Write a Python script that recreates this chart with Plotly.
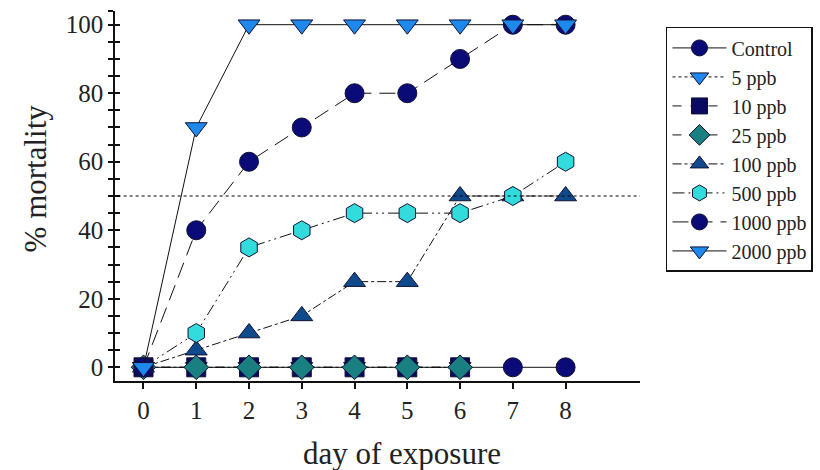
import plotly.graph_objects as go

days = [0, 1, 2, 3, 4, 5, 6, 7, 8]
days_short = [0, 1, 2, 3, 4, 5, 6]

control = [0, 0, 0, 0, 0, 0, 0, 0, 0]
ppb5 = [0, 0, 0, 0, 0, 0, 0]
ppb10 = [0, 0, 0, 0, 0, 0, 0]
ppb25 = [0, 0, 0, 0, 0, 0, 0]
ppb100 = [0, 5, 10, 15, 25, 25, 50, 50, 50]
ppb500 = [0, 10, 35, 40, 45, 45, 45, 50, 60]
ppb1000 = [0, 40, 60, 70, 80, 80, 90, 100, 100]
ppb2000 = [0, 70, 100, 100, 100, 100, 100, 100, 100]

lc50 = 50

x_ticks = [0, 1, 2, 3, 4, 5, 6, 7, 8]
y_tickvals = [0, 5, 10, 15, 20, 25, 30, 35, 40, 45, 50, 55, 60, 65, 70, 75, 80, 85, 90, 95, 100, 104]
y_ticktext = ["0", "", "", "", "20", "", "", "", "40", "", "", "", "60", "", "", "", "80", "", "", "", "100", ""]

FONT = "Liberation Serif, Times New Roman, serif"
LINE = "#111111"

series = [
    ("Control", days, control, "circle", "#0b0b78", "solid"),
    ("5 ppb", days_short, ppb5, "triangle-down", "#1e88ec", "dot"),
    ("10 ppb", days_short, ppb10, "square", "#0a0a62", "dash"),
    ("25 ppb", days_short, ppb25, "diamond", "#1a7f80", "dash"),
    ("100 ppb", days, ppb100, "triangle-up", "#0e4a8c", "dashdot"),
    ("500 ppb", days, ppb500, "hexagon", "#33dcdc", "12px,4px,2px,4px,2px,4px"),
    ("1000 ppb", days, ppb1000, "circle", "#0b0b78", "16px,8px"),
    ("2000 ppb", days, ppb2000, "triangle-down", "#1e88ec", "solid"),
]

fig = go.Figure()
for i, (name, xs, ys, sym, col, dash) in enumerate(series):
    fig.add_trace(go.Scatter(
        x=xs, y=ys, name=name, mode="lines+markers",
        line=dict(color=LINE, width=1, dash=dash),
        marker=dict(symbol=sym, size=19, color=col,
                    line=dict(color="#111133", width=1)),
    ))

# dummy trace for the overlaid axis that draws inner tick halves
fig.add_trace(go.Scatter(x=[None], y=[None], yaxis="y2", showlegend=False,
                         hoverinfo="skip"))

fig.add_shape(type="line", xref="paper", x0=0.005, x1=1.0, yref="y", y0=lc50, y1=lc50,
              line=dict(color="#000000", width=1.2, dash="dot"))

fig.update_layout(
    width=820, height=470,
    margin=dict(l=115, r=180, t=11, b=89, autoexpand=False),
    paper_bgcolor="white", plot_bgcolor="white",
    font=dict(family=FONT, color="#222222"),
    showlegend=True,
    legend=dict(
        x=1.0495, y=0.957, xanchor="left", yanchor="top",
        bordercolor="#111111", borderwidth=1.5,
        font=dict(family=FONT, size=20, color="#222222"),
        itemwidth=54, tracegroupgap=0,
    ),
    xaxis=dict(
        range=[-0.54, 9.41], tickvals=x_ticks, ticks="outside", ticklen=6,
        tickwidth=1.5, tickcolor="#111111",
        showline=True, linecolor="#111111", linewidth=1.5,
        showgrid=False, zeroline=False,
        tickfont=dict(family=FONT, size=25, color="#222222"),
    ),
    yaxis=dict(
        range=[-4, 104], tickvals=y_tickvals, ticktext=y_ticktext,
        ticks="outside", ticklen=5, tickwidth=1.5, tickcolor="#111111",
        showline=True, linecolor="#111111", linewidth=1.5,
        showgrid=False, zeroline=False,
        tickfont=dict(family=FONT, size=25, color="#222222"),
    ),
    yaxis2=dict(
        range=[-4, 104], overlaying="y", side="left", anchor="x",
        tickvals=y_tickvals, showticklabels=False,
        ticks="inside", ticklen=5, tickwidth=1.5, tickcolor="#111111",
        showline=False, showgrid=False, zeroline=False,
    ),
    annotations=[
        dict(text="day of exposure", xref="paper", yref="paper",
             x=0.547, y=-0.1965, xanchor="center", yanchor="middle",
             showarrow=False, font=dict(family=FONT, size=31, color="#222222")),
        dict(text="% mortality", xref="paper", yref="paper",
             x=-0.152, y=0.548, xanchor="center", yanchor="middle", textangle=-90,
             showarrow=False, font=dict(family=FONT, size=31, color="#222222")),
    ],
)

fig.write_html("out.html")
